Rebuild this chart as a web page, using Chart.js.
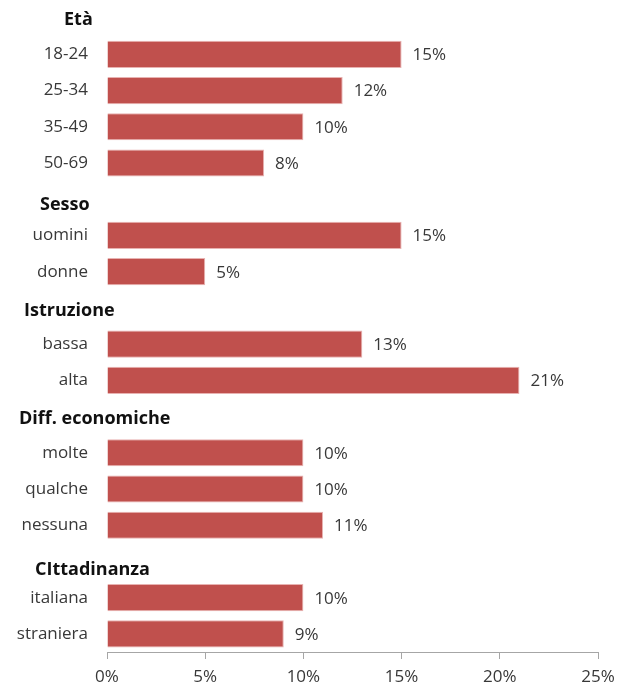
<!DOCTYPE html>
<html lang="it">
<head>
<meta charset="utf-8">
<title>Quota per gruppo</title>
<script src="https://cdn.jsdelivr.net/npm/chart.js@4/dist/chart.umd.min.js"></script>
<style>
  html, body { margin: 0; padding: 0; background: #fff; }
  #wrap { width: 627px; height: 683px; }
</style>
</head>
<body>
<div id="wrap"><canvas id="chart" width="627" height="683"></canvas></div>
<script>
/* ---- data ---- */
const groupTitles = ["Età", "Sesso", "Istruzione", "Diff. economiche", "CIttadinanza"];
const groupItems = [
    ["18-24", "25-34", "35-49", "50-69"],
    ["uomini", "donne"],
    ["bassa", "alta"],
    ["molte", "qualche", "nessuna"],
    ["italiana", "straniera"]
];
const groupValues = [
    [15, 12, 10, 8],
    [15, 5],
    [13, 21],
    [10, 10, 11],
    [10, 9]
];
const xTicks = [0, 5, 10, 15, 20, 25];

/* ---- flatten: each group gets a title row with no bar ---- */
const labels = [];
const values = [];
const titleRows = [];
groupTitles.forEach((title, g) => {
    titleRows.push(labels.length);
    labels.push(title);
    values.push(null);
    groupItems[g].forEach((item, i) => {
        labels.push(item);
        values.push(groupValues[g][i]);
    });
});

const FONT = "'Open Sans', sans-serif";
const TEXT = "#383838";

// left edge and vertical nudge of each bold group title
const titleLeft = [64, 40, 24, 19, 35];
const titleNudge = [2, 6, 3, 2, 8];

const groupTitlePlugin = {
    id: "groupTitles",
    afterDraw(chart) {
        const { ctx } = chart;
        const y = chart.scales.y;
        ctx.save();
        ctx.font = "bold 18px " + FONT;
        ctx.fillStyle = "#111";
        ctx.textAlign = "left";
        ctx.textBaseline = "middle";
        titleRows.forEach((row, g) => {
            ctx.fillText(groupTitles[g], titleLeft[g], y.getPixelForValue(row) + titleNudge[g]);
        });
        ctx.restore();
    }
};

const valueLabelPlugin = {
    id: "valueLabels",
    afterDatasetsDraw(chart) {
        const { ctx } = chart;
        const meta = chart.getDatasetMeta(0);
        ctx.save();
        ctx.font = "17px " + FONT;
        ctx.fillStyle = TEXT;
        ctx.textAlign = "left";
        ctx.textBaseline = "middle";
        meta.data.forEach((bar, i) => {
            const v = values[i];
            if (v === null) return;
            ctx.fillText(v + "%", bar.x + 11, bar.y + 1);
        });
        ctx.restore();
    }
};

new Chart(document.getElementById("chart"), {
    type: "bar",
    data: {
        labels,
        datasets: [{
            data: values,
            backgroundColor: "#C0504D",
            borderColor: "rgba(230,170,168,0.9)",
            borderWidth: 1,
            categoryPercentage: 1,
            barPercentage: 0.75
        }]
    },
    options: {
        indexAxis: "y",
        responsive: false,
        animation: false,
        layout: { autoPadding: false, padding: { top: 0, right: 29, bottom: 0, left: 0 } },
        scales: {
            x: {
                min: 0,
                max: 25,
                afterBuildTicks: scale => {
                    scale.ticks = xTicks.map(v => ({ value: v }));
                },
                afterFit: scale => {
                    scale.height = 31;
                    scale.paddingLeft = 0;
                    scale.paddingRight = 0;
                },
                grid: {
                    drawOnChartArea: false,
                    drawTicks: true,
                    tickLength: 7,
                    color: "#A6A6A6"
                },
                border: { display: true, color: "#A6A6A6" },
                ticks: {
                    padding: 8,
                    color: TEXT,
                    font: { family: FONT, size: 17 },
                    callback: v => v + "%"
                }
            },
            y: {
                afterFit: scale => {
                    scale.width = 107;
                    scale.paddingTop = 0;
                    scale.paddingBottom = 0;
                },
                grid: { display: false, drawTicks: false },
                border: { display: false },
                ticks: {
                    padding: 19,
                    color: TEXT,
                    font: { family: FONT, size: 17 },
                    callback: (v, i) => titleRows.includes(i) ? "" : labels[i]
                }
            }
        },
        plugins: {
            legend: { display: false },
            tooltip: { enabled: false }
        }
    },
    plugins: [groupTitlePlugin, valueLabelPlugin]
});
</script>
</body>
</html>
